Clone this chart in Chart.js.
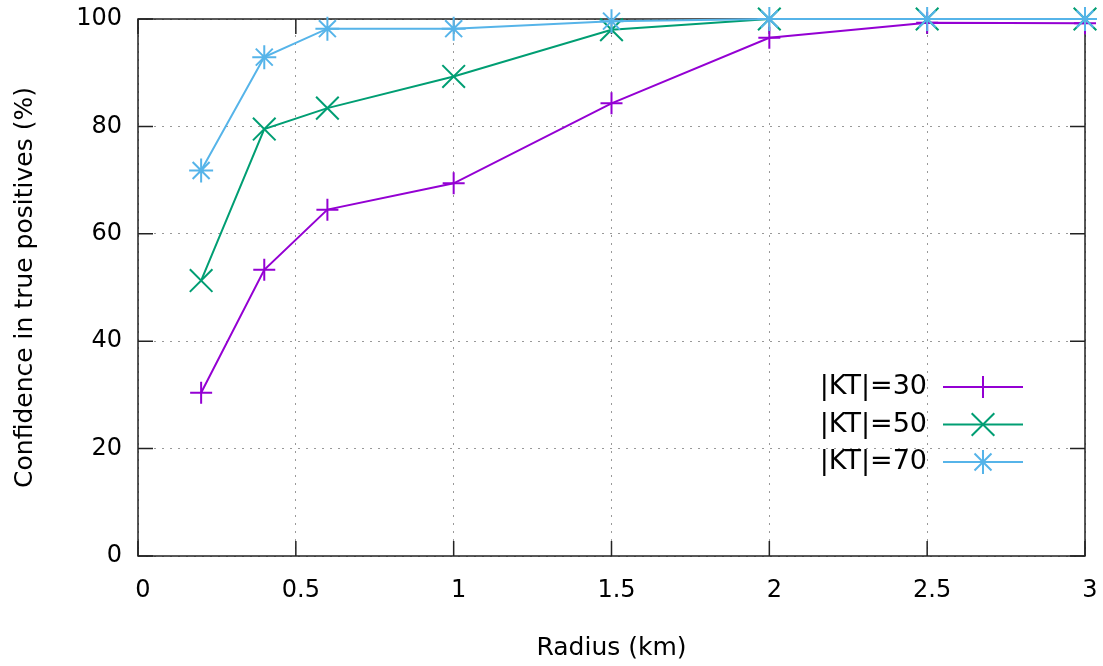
<!DOCTYPE html>
<html>
<head>
<meta charset="utf-8">
<script src="https://cdn.jsdelivr.net/npm/chart.js@4/dist/chart.umd.min.js"></script>
<style>
  html, body { margin: 0; padding: 0; background: #fff; }
  #wrap { width: 1103px; height: 666px; }
</style>
</head>
<body>
<div id="wrap"><canvas id="confChart" width="1103" height="666"></canvas></div>
<script>
// radius sweep and confidence per |KT| size
const radiusKm = [0.2, 0.4, 0.6, 1, 1.5, 2, 2.5, 3];
const kt30 = [30.4, 53.3, 64.5, 69.4, 84.3, 96.5, 99.3, 99.2];
const kt50 = [51.3, 79.5, 83.4, 89.3, 98.0, 100, 100, 100];
const kt70 = [71.8, 92.9, 98.2, 98.2, 99.6, 100, 100, 100];
const seriesLabels = ['|KT|=30', '|KT|=50', '|KT|=70'];
const xTicks = [0, 0.5, 1, 1.5, 2, 2.5, 3];
const yTicks = [0, 20, 40, 60, 80, 100];

const FONT = "'DejaVu Sans', Verdana, sans-serif";
const colors = ['#9400d3', '#009e73', '#56b4e9'];
const styles = ['cross', 'crossRot', 'star'];
const radii = [11, 16, 12];

function pts(ys) {
  return radiusKm.map((x, i) => ({ x: x, y: ys[i] }));
}

function markerPath(ctx, style, x, y, r) {
  ctx.beginPath();
  if (style === 'cross' || style === 'star') {
    ctx.moveTo(x - r, y); ctx.lineTo(x + r, y);
    ctx.moveTo(x, y - r); ctx.lineTo(x, y + r);
  }
  if (style === 'crossRot' || style === 'star') {
    const d = r * Math.SQRT1_2;
    ctx.moveTo(x - d, y - d); ctx.lineTo(x + d, y + d);
    ctx.moveTo(x - d, y + d); ctx.lineTo(x + d, y - d);
  }
  ctx.stroke();
}

// gnuplot-like frame with inward ticks on all four sides
const framePlugin = {
  id: 'frame',
  beforeDatasetsDraw(chart) {
    const { ctx, chartArea: a, scales } = chart;
    ctx.save();
    ctx.strokeStyle = '#222';
    ctx.lineWidth = 1.5;
    ctx.beginPath();
    xTicks.forEach(v => {
      const px = scales.x.getPixelForValue(v);
      ctx.moveTo(px, a.bottom); ctx.lineTo(px, a.bottom - 15);
      ctx.moveTo(px, a.top); ctx.lineTo(px, a.top + 15);
    });
    yTicks.forEach(v => {
      const py = scales.y.getPixelForValue(v);
      ctx.moveTo(a.left, py); ctx.lineTo(a.left + 15, py);
      ctx.moveTo(a.right, py); ctx.lineTo(a.right - 15, py);
    });
    ctx.stroke();
    ctx.strokeRect(a.left, a.top, a.right - a.left, a.bottom - a.top);
    ctx.restore();
  }
};

// key in the lower right: label, then line sample with its marker
const keyPlugin = {
  id: 'key',
  afterDraw(chart) {
    const { ctx, chartArea: a } = chart;
    ctx.save();
    ctx.font = '27px ' + FONT;
    ctx.textAlign = 'right';
    ctx.textBaseline = 'middle';
    chart.data.datasets.forEach((ds, i) => {
      const y = a.bottom - 169 + i * 37.5;
      const textRight = a.right - 158;
      const x0 = a.right - 142, x1 = a.right - 62;
      ctx.fillStyle = '#000';
      ctx.fillText(ds.label, textRight, y);
      ctx.strokeStyle = ds.borderColor;
      ctx.lineWidth = 2;
      ctx.beginPath();
      ctx.moveTo(x0, y); ctx.lineTo(x1, y);
      ctx.stroke();
      markerPath(ctx, ds.pointStyle, (x0 + x1) / 2, y, ds.pointRadius);
    });
    ctx.restore();
  }
};

const seriesValues = [kt30, kt50, kt70];
const datasets = seriesValues.map((vals, i) => ({
  label: seriesLabels[i],
  data: pts(vals),
  borderColor: colors[i],
  backgroundColor: colors[i],
  pointBorderColor: colors[i],
  borderWidth: 2,
  pointStyle: styles[i],
  pointRadius: radii[i],
  pointBorderWidth: 2,
  pointHoverRadius: radii[i],
  tension: 0,
  clip: false,
  order: 2 - i
}));

new Chart(document.getElementById('confChart'), {
  type: 'line',
  data: { datasets: datasets },
  options: {
    responsive: false,
    animation: false,
    events: [],
    layout: { padding: { top: 19, right: 18, left: 0, bottom: 0 } },
    plugins: {
      legend: { display: false },
      tooltip: { enabled: false }
    },
    scales: {
      x: {
        type: 'linear',
        min: 0,
        max: 3,
        afterFit(s) {
          s.height = 110;
          s.paddingLeft = 0;
          s.paddingRight = 0;
        },
        afterBuildTicks(s) { s.ticks = xTicks.map(v => ({ value: v })); },
        ticks: {
          color: '#000',
          font: { family: FONT, size: 24 },
          padding: 20,
          labelOffset: 5,
          maxRotation: 0,
          autoSkip: false,
          callback: v => String(v)
        },
        grid: { color: '#999', lineWidth: 1, drawTicks: false },
        border: { display: false, dash: [2, 6] },
        title: {
          display: true,
          text: 'Radius (km)',
          color: '#000',
          font: { family: FONT, size: 25 },
          padding: { top: 0, bottom: 3 }
        }
      },
      y: {
        min: 0,
        max: 100,
        afterFit(s) {
          s.width = 138;
          s.paddingTop = 0;
          s.paddingBottom = 0;
        },
        afterBuildTicks(s) { s.ticks = yTicks.map(v => ({ value: v })); },
        ticks: {
          color: '#000',
          font: { family: FONT, size: 24 },
          padding: 16
        },
        grid: { color: '#999', lineWidth: 1, drawTicks: false },
        border: { display: false, dash: [2, 6] },
        title: {
          display: true,
          text: 'Confidence in true positives (%)',
          color: '#000',
          font: { family: FONT, size: 25 },
          padding: { top: 10, bottom: 0 }
        }
      }
    }
  },
  plugins: [framePlugin, keyPlugin]
});
</script>
</body>
</html>
